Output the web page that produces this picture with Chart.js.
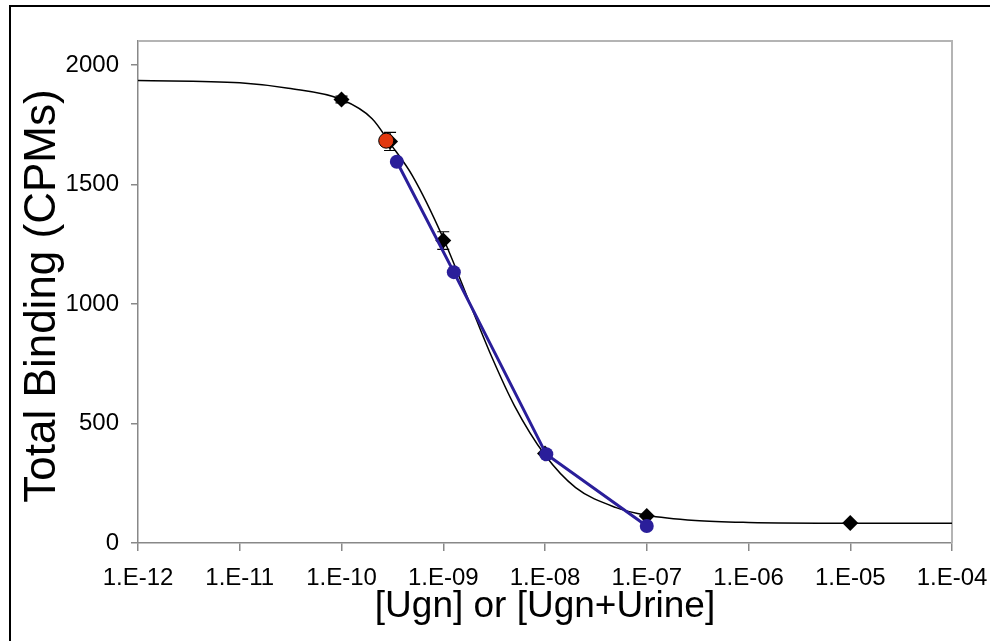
<!DOCTYPE html>
<html>
<head>
<meta charset="utf-8">
<script src="https://cdn.jsdelivr.net/npm/chart.js@4.4.1/dist/chart.umd.min.js"></script>
<style>
  html, body { margin: 0; padding: 0; background: #fff; }
  canvas { display: block; }
</style>
</head>
<body>
<canvas id="binding-chart" width="990" height="641"></canvas>
<script>
// fitted curve
var curveX = [1e-12, 1e-11, 3e-11, 1e-10, 2e-10, 3e-10, 5e-10, 1e-9, 2e-9, 3e-9, 5e-9, 1e-8, 2e-8, 5e-8, 1e-7, 3e-7, 1e-6, 1e-5, 1e-4];
var curveY = [1935, 1925, 1902, 1855, 1775, 1672, 1535, 1275, 960, 778, 575, 368, 232, 148, 116, 94, 86, 83, 83];

// Ugn standards (black diamonds)
var ugnX = [1e-10, 3e-10, 1e-9, 1e-8, 1e-7, 1e-5];
var ugnY = [1855, 1680, 1265, 374, 113, 84];
var ugnErr = [14, 38, 37, 0, 0, 0];

// Ugn + urine (blue)
var urineX = [3.5e-10, 1.27e-9, 1.03e-8, 1e-7];
var urineY = [1595, 1133, 371, 71];

// urine alone (red)
var redX = [2.75e-10];
var redY = [1683];

var xTicks = [1e-12, 1e-11, 1e-10, 1e-9, 1e-8, 1e-7, 1e-6, 1e-5, 1e-4];
var xTickLabels = ["1.E-12", "1.E-11", "1.E-10", "1.E-09", "1.E-08", "1.E-07", "1.E-06", "1.E-05", "1.E-04"];
var yTicks = [0, 500, 1000, 1500, 2000];

function pts(xs, ys) {
  return xs.map(function (x, i) { return { x: x, y: ys[i] }; });
}

const FONT = "'Liberation Sans', Arial, sans-serif";

const extras = {
  id: "extras",
  beforeDatasetsDraw(chart) {
    const c = chart.ctx, a = chart.chartArea;
    const xs = chart.scales.x, ys = chart.scales.y;
    c.save();
    // plot frame top / right
    c.strokeStyle = "#b4b4b4";
    c.lineWidth = 2;
    c.beginPath();
    c.moveTo(a.left, a.top);
    c.lineTo(a.right, a.top);
    c.lineTo(a.right, a.bottom);
    c.stroke();
    // error bars
    c.strokeStyle = "#000";
    c.lineWidth = 1.2;
    ugnX.forEach(function (x, i) {
      if (!ugnErr[i]) return;
      const px = xs.getPixelForValue(x);
      const hi = ys.getPixelForValue(ugnY[i] + ugnErr[i]);
      const lo = ys.getPixelForValue(ugnY[i] - ugnErr[i]);
      c.beginPath();
      c.moveTo(px, hi); c.lineTo(px, lo);
      c.moveTo(px - 6, hi); c.lineTo(px + 6, hi);
      c.moveTo(px - 6, lo); c.lineTo(px + 6, lo);
      c.stroke();
    });
    c.restore();
  },
  afterDraw(chart) {
    const c = chart.ctx;
    c.save();
    // outer frame (only top and left visible)
    c.strokeStyle = "#000";
    c.lineWidth = 2;
    c.beginPath();
    c.moveTo(10, 641);
    c.lineTo(10, 6);
    c.lineTo(990, 6);
    c.stroke();
    // titles
    c.fillStyle = "#000";
    c.textAlign = "center";
    c.textBaseline = "middle";
    c.font = "37px " + FONT;
    c.fillText("[Ugn] or [Ugn+Urine]", 545, 607);
    c.translate(43, 296);
    c.rotate(-Math.PI / 2);
    c.font = "44px " + FONT;
    c.fillText("Total Binding (CPMs)", 0, 0);
    c.restore();
  }
};

const ctx = document.getElementById("binding-chart");

const myChart = new Chart(ctx, {
  type: "scatter",
  data: {
    datasets: [
      {
        label: "Urine",
        data: pts(redX, redY),
        backgroundColor: "#e2380f",
        borderColor: "#000",
        borderWidth: 1,
        pointRadius: 7.5,
        showLine: false,
        order: 1,
      },
      {
        label: "Ugn + Urine",
        data: pts(urineX, urineY),
        backgroundColor: "#2a1e9a",
        borderColor: "#2a1e9a",
        borderWidth: 3,
        pointRadius: 7,
        pointBorderWidth: 0,
        showLine: true,
        order: 2,
      },
      {
        label: "Ugn",
        data: pts(ugnX, ugnY),
        backgroundColor: "#000",
        borderColor: "#000",
        pointStyle: "rectRot",
        pointRadius: 8,
        pointBorderWidth: 0,
        showLine: false,
        order: 3,
      },
      {
        label: "Fit",
        data: pts(curveX, curveY),
        borderColor: "#000",
        borderWidth: 1.5,
        pointRadius: 0,
        showLine: true,
        cubicInterpolationMode: "monotone",
        order: 4,
      },
    ],
  },
  options: {
    responsive: false,
    animation: false,
    layout: { padding: { top: 41, right: 38, left: 0, bottom: 0 } },
    plugins: {
      legend: { display: false },
      tooltip: { enabled: false },
    },
    scales: {
      x: {
        type: "logarithmic",
        min: 1e-12,
        max: 1e-4,
        afterFit: function (s) { s.height = 98; s.paddingLeft = 0; s.paddingRight = 0; },
        afterBuildTicks: function (s) { s.ticks = xTicks.map(function (v) { return { value: v }; }); },
        ticks: {
          autoSkip: false,
          maxRotation: 0,
          padding: 13,
          color: "#000",
          font: { size: 24, family: FONT },
          callback: function (v) { return xTickLabels[xTicks.indexOf(v)]; },
        },
        grid: { drawOnChartArea: false, tickLength: 8, color: "#888", lineWidth: 1.5 },
        border: { color: "#888", width: 1.5 },
      },
      y: {
        min: 0,
        max: 2100,
        afterFit: function (s) { s.width = 138; s.paddingTop = 0; s.paddingBottom = 0; },
        afterBuildTicks: function (s) { s.ticks = yTicks.map(function (v) { return { value: v }; }); },
        ticks: {
          padding: 12,
          color: "#000",
          font: { size: 24, family: FONT },
          callback: function (v) { return String(v); },
        },
        grid: { drawOnChartArea: false, tickLength: 7, color: "#888", lineWidth: 1.5 },
        border: { color: "#888", width: 1.5 },
      },
    },
  },
  plugins: [extras],
});
</script>
</body>
</html>
